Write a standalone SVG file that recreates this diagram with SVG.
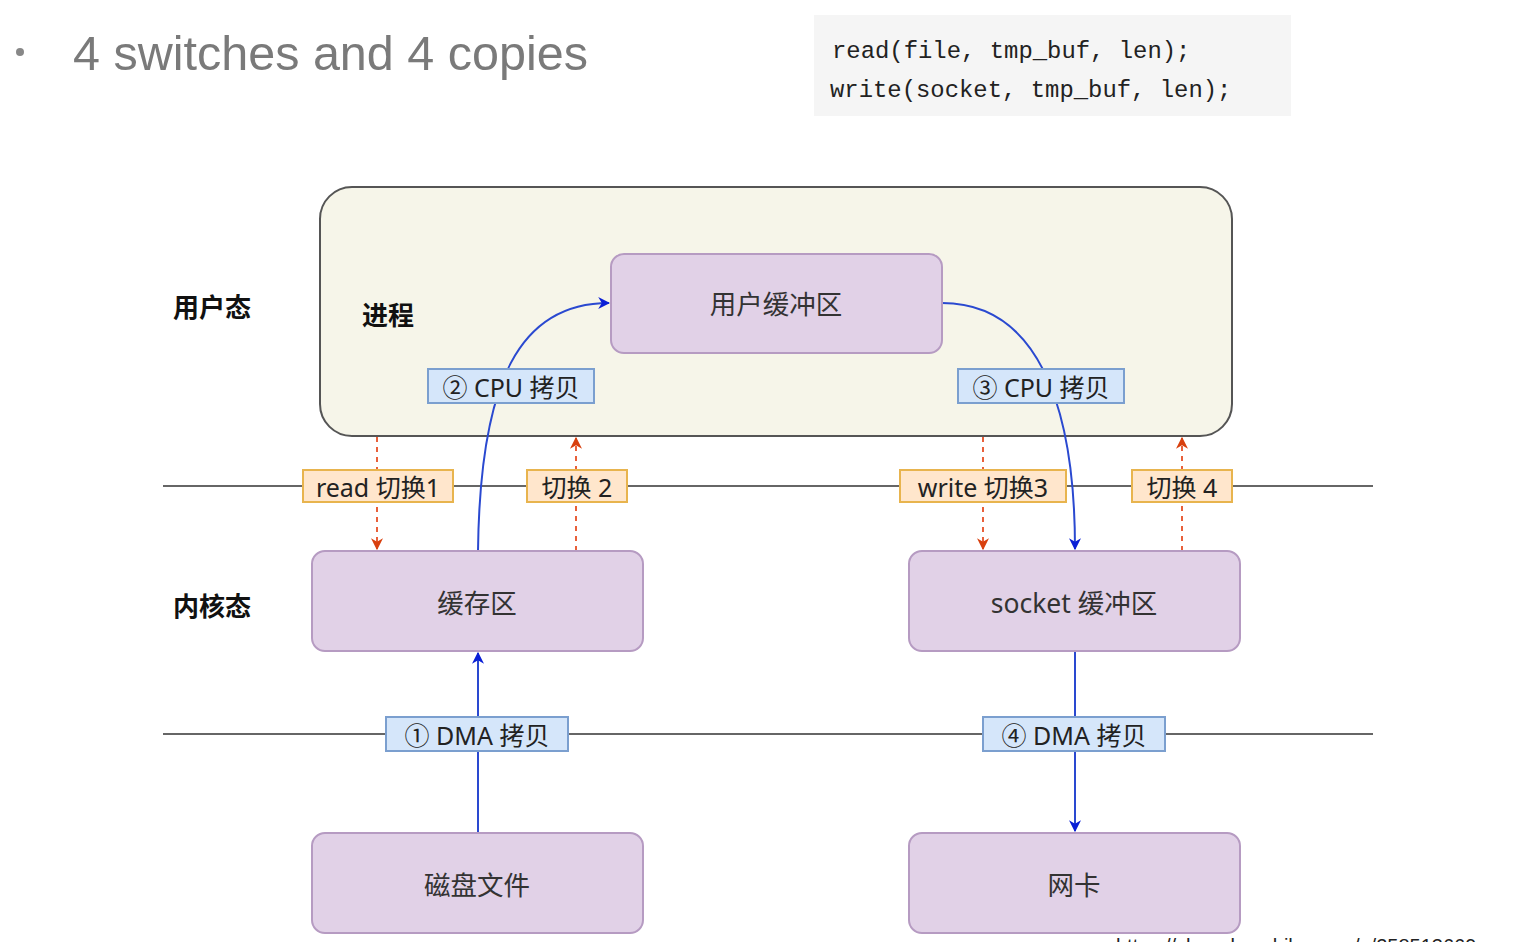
<svg xmlns="http://www.w3.org/2000/svg" width="1534" height="942" viewBox="0 0 1534 942">
<style>
.title{font-family:"Liberation Sans","Noto Sans",sans-serif;font-size:48.5px;fill:#7a7a7a}
.code{font-family:"Liberation Mono","DejaVu Sans Mono",monospace;font-size:23.9px;fill:#222}
.node{fill:#e1d1e7;stroke:#b69bc2;stroke-width:2}
.ntext{font-family:"Noto Sans","Noto Sans CJK SC",sans-serif;font-size:26.5px;fill:#333;text-anchor:middle;dominant-baseline:central}
.side{font-family:"Noto Sans CJK SC","Noto Sans",sans-serif;font-size:26px;font-weight:bold;fill:#111;dominant-baseline:central}
.sw{fill:#ffe6cc;stroke:#e8b44e;stroke-width:2}
.cp{fill:#d5e6fa;stroke:#7b9fcf;stroke-width:2}
.ltext{font-family:"Noto Sans","Noto Sans CJK SC",sans-serif;font-size:25px;fill:#222;text-anchor:middle;dominant-baseline:central}
.hline{stroke:#333;stroke-width:1.5}
.blue{fill:none;stroke:#2a49d0;stroke-width:2}
.red{fill:none;stroke:#e8603a;stroke-width:2;stroke-dasharray:5 5}
</style>
<defs>
<marker id="ab" viewBox="0 0 10 10" refX="9" refY="5" markerWidth="12" markerHeight="12" markerUnits="userSpaceOnUse" orient="auto">
<path d="M0,0 L10,5 L0,10 L3,5 Z" fill="#0a1fd6"/>
</marker>
<marker id="ar" viewBox="0 0 10 10" refX="9" refY="5" markerWidth="12" markerHeight="12" markerUnits="userSpaceOnUse" orient="auto">
<path d="M0,0 L10,5 L0,10 L3,5 Z" fill="#d8400e"/>
</marker>
</defs>

<g id="header">
<circle cx="20" cy="52" r="4" fill="#888"/>
<text class="title" x="73" y="70">4 switches and 4 copies</text>
<rect x="814" y="15" width="477" height="101" fill="#f5f5f5"/>
<text class="code" x="832" y="58">read(file, tmp_buf, len);</text>
<text class="code" x="830" y="97">write(socket, tmp_buf, len);</text>
</g>

<g id="process">
<rect x="320" y="187" width="912" height="249" rx="32" fill="#f6f5e9" stroke="#555" stroke-width="2"/>
<text class="side" x="362" y="313">进程</text>
</g>

<g id="labels">
<text class="side" x="173" y="305">用户态</text>
<text class="side" x="173" y="604">内核态</text>
</g>

<g id="lines">
<line class="hline" x1="163" y1="486" x2="1373" y2="486"/>
<line class="hline" x1="163" y1="734" x2="1373" y2="734"/>
</g>

<g id="connectors">
<path class="blue" d="M478,551 C480,380 520,303 609,303" marker-end="url(#ab)"/>
<path class="blue" d="M942,303 C1035,303 1075,400 1075,549" marker-end="url(#ab)"/>
<path class="blue" d="M478,833 L478,653" marker-end="url(#ab)"/>
<path class="blue" d="M1075,651 L1075,831" marker-end="url(#ab)"/>
<path class="red" d="M377,437 L377,549" marker-end="url(#ar)"/>
<path class="red" d="M576,551 L576,438" marker-end="url(#ar)"/>
<path class="red" d="M983,437 L983,549" marker-end="url(#ar)"/>
<path class="red" d="M1182,551 L1182,438" marker-end="url(#ar)"/>
</g>

<g id="user-buffer">
<rect class="node" x="611" y="254" width="331" height="99" rx="13"/>
<text class="ntext" x="776" y="304">用户缓冲区</text>
</g>
<g id="kernel-cache">
<rect class="node" x="312" y="551" width="331" height="100" rx="13"/>
<text class="ntext" x="477" y="603">缓存区</text>
</g>
<g id="socket-buffer">
<rect class="node" x="909" y="551" width="331" height="100" rx="13"/>
<text class="ntext" x="1074" y="603">socket 缓冲区</text>
</g>
<g id="disk-file">
<rect class="node" x="312" y="833" width="331" height="100" rx="13"/>
<text class="ntext" x="477" y="885">磁盘文件</text>
</g>
<g id="nic">
<rect class="node" x="909" y="833" width="331" height="100" rx="13"/>
<text class="ntext" x="1074" y="885">网卡</text>
</g>

<g id="switch1">
<rect class="sw" x="303" y="470" width="150" height="32"/>
<text class="ltext" x="378" y="487">read 切换1</text>
</g>
<g id="switch2">
<rect class="sw" x="527" y="470" width="100" height="32"/>
<text class="ltext" x="577" y="487">切换 2</text>
</g>
<g id="switch3">
<rect class="sw" x="900" y="470" width="166" height="32"/>
<text class="ltext" x="983" y="487">write 切换3</text>
</g>
<g id="switch4">
<rect class="sw" x="1132" y="470" width="100" height="32"/>
<text class="ltext" x="1182" y="487">切换 4</text>
</g>

<g id="copy2">
<rect class="cp" x="428" y="369" width="166" height="34"/>
<text class="ltext" x="511" y="387">② CPU 拷贝</text>
</g>
<g id="copy3">
<rect class="cp" x="958" y="369" width="166" height="34"/>
<text class="ltext" x="1041" y="387">③ CPU 拷贝</text>
</g>
<g id="copy1">
<rect class="cp" x="386" y="717" width="182" height="34"/>
<text class="ltext" x="477" y="735">① DMA 拷贝</text>
</g>
<g id="copy4">
<rect class="cp" x="983" y="717" width="182" height="34"/>
<text class="ltext" x="1074" y="735">④ DMA 拷贝</text>
</g>

<g id="watermark">
<text x="1116" y="953" style="font-family:'Liberation Sans',sans-serif;font-size:20px;fill:#222">https://zhuanlan.zhihu.com/p/258513669</text>
</g>
</svg>
